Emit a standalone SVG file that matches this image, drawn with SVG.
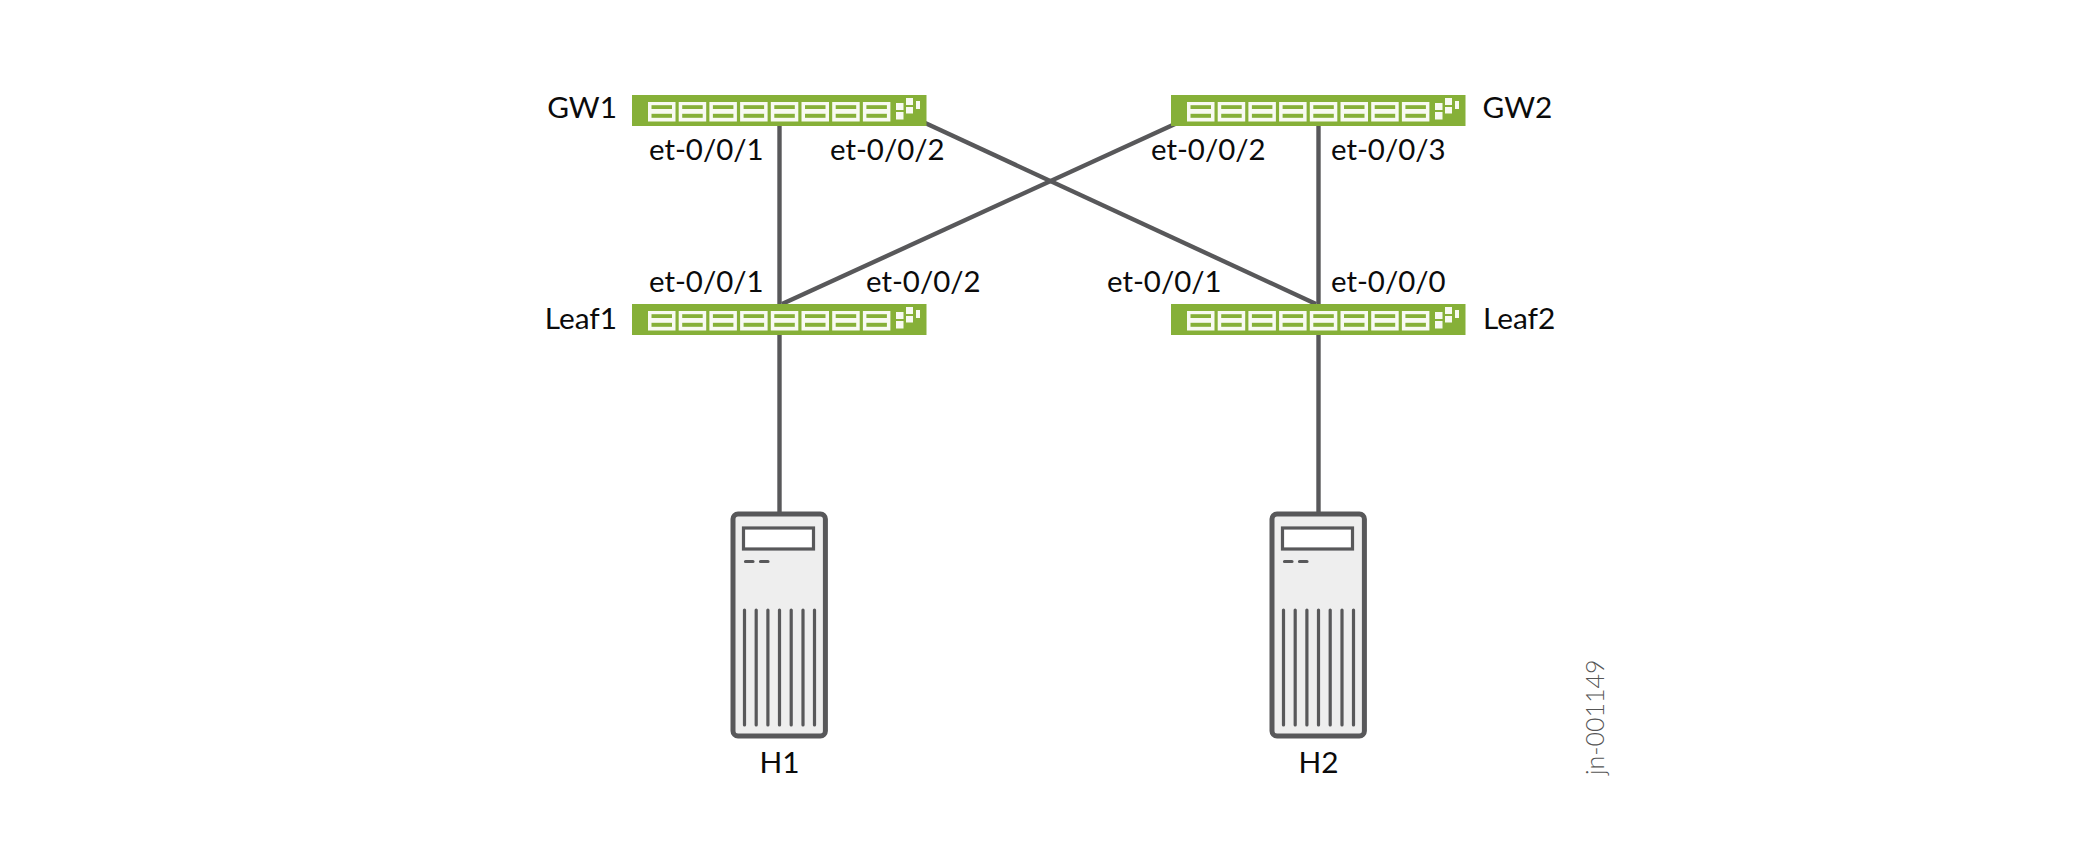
<svg xmlns="http://www.w3.org/2000/svg" xmlns:xlink="http://www.w3.org/1999/xlink" width="2100" height="853" viewBox="0 0 2100 853">
<style>
text{font-family:Lato,"Noto Sans","Liberation Sans",sans-serif;font-size:29.400px;fill:#0b0b0b}
.nm{font-size:29.800px}
.lnk{stroke:#58585a;stroke-width:4.4;fill:none}
.body{fill:#86b038}
.port{fill:#f8faf2}
.dot{fill:#f8faf2}
.srv{fill:#eeeeee;stroke:#58585a;stroke-width:5}
.disp{fill:#fff;stroke:#58585a;stroke-width:3.200}
.v{stroke:#58585a;stroke-width:3.200;stroke-linecap:round;fill:none}
</style>
<defs>
<g id="sw">
<rect class="body" x="0" y="0" width="294.500" height="31"/>
<g id="p"><rect class="port" x="16" y="7" width="27.500" height="19.500"/><rect class="body" x="19.500" y="10.200" width="20.500" height="3.800"/><rect class="body" x="19.500" y="18.800" width="20.500" height="4"/></g>
<use xlink:href="#p" x="30.700"/><use xlink:href="#p" x="61.400"/><use xlink:href="#p" x="92.100"/><use xlink:href="#p" x="122.800"/><use xlink:href="#p" x="153.500"/><use xlink:href="#p" x="184.200"/><use xlink:href="#p" x="214.900"/>
<rect class="dot" x="264" y="8" width="7.5" height="7"/><rect class="dot" x="264" y="17" width="7.5" height="7.5"/><rect class="dot" x="274" y="3" width="7" height="7"/><rect class="dot" x="274" y="12" width="7" height="6.500"/><rect class="dot" x="284" y="6" width="4" height="8"/>
</g>
<g id="sv">
<rect class="srv" x="0" y="0" width="92.4" height="222" rx="5"/>
<rect class="disp" x="10.500" y="14" width="70" height="21"/>
<path class="v" d="M12.500 47.5H20M27.500 47.5H35"/>
<path class="v" d="M11.500 96V211M23.200 96V211M34.900 96V211M46.500 96V211M58.200 96V211M70 96V211M81.500 96V211"/>
</g>
</defs>
<g id="connectors">
<path class="lnk" d="M779.500 125V304"/>
<path class="lnk" d="M1318.500 125V304"/>
<path class="lnk" d="M779.500 335V513"/>
<path class="lnk" d="M1318.500 335V513"/>
<path class="lnk" d="M923 122L1316 304"/>
<path class="lnk" d="M1175 124L782 304"/>
</g>
<g id="GW1"><use xlink:href="#sw" x="632" y="95"/><text class="nm" x="617" y="118" text-anchor="end">GW1</text></g>
<g id="GW2"><use xlink:href="#sw" x="1171" y="95"/><text class="nm" x="1482.500" y="118">GW2</text></g>
<g id="Leaf1"><use xlink:href="#sw" x="632" y="304"/><text class="nm" x="617" y="329" text-anchor="end">Leaf1</text></g>
<g id="Leaf2"><use xlink:href="#sw" x="1171" y="304"/><text class="nm" x="1483" y="329">Leaf2</text></g>
<g id="H1"><use xlink:href="#sv" x="733" y="514"/><text class="nm" x="779.500" y="773" text-anchor="middle">H1</text></g>
<g id="H2"><use xlink:href="#sv" x="1272" y="514"/><text class="nm" x="1318.500" y="773" text-anchor="middle">H2</text></g>
<g id="labels">
<text x="649" y="160">et-0/0/1</text>
<text x="830" y="160">et-0/0/2</text>
<text x="1151" y="160">et-0/0/2</text>
<text x="1331" y="160">et-0/0/3</text>
<text x="649" y="292">et-0/0/1</text>
<text x="866" y="292">et-0/0/2</text>
<text x="1107" y="292">et-0/0/1</text>
<text x="1331" y="292">et-0/0/0</text>
</g>
<text id="ref" transform="translate(1604 775) rotate(-90)" style="font-size:25px;font-weight:300;fill:#555">jn-001149</text>
</svg>
